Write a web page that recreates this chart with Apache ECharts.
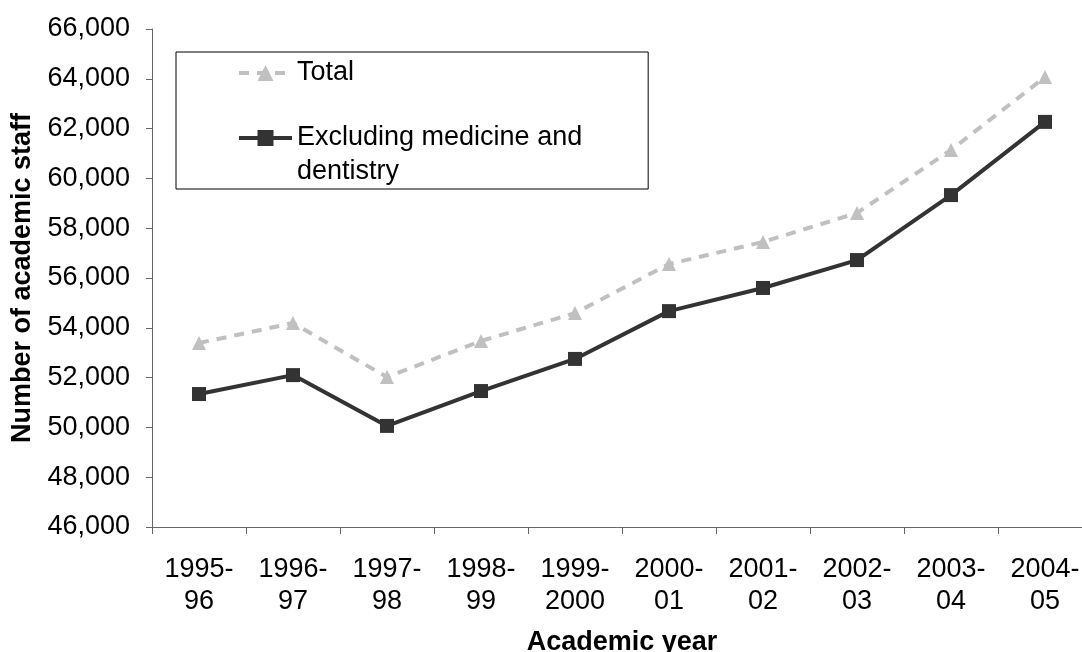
<!DOCTYPE html>
<html>
<head>
<meta charset="utf-8">
<script src="https://cdn.jsdelivr.net/npm/echarts@6/dist/echarts.min.js"></script>
<style>
html,body{margin:0;padding:0;background:#fff;}
#chart{width:1082px;height:652px;}
</style>
</head>
<body>
<div id="chart"></div>
<script>
const categories = ['1995-96','1996-97','1997-98','1998-99','1999-2000','2000-01','2001-02','2002-03','2003-04','2004-05'];
const totalValues = [53390, 54190, 52020, 53470, 54590, 56560, 57450, 58610, 61140, 64070];
const excludingValues = [51340, 52100, 50060, 51460, 52750, 54670, 55600, 56720, 59330, 62270];
const yTicks = { min: 46000, max: 66000, interval: 2000 };
const seriesNames = ['Total', 'Excluding medicine and dentistry'];

const FONT = '"Liberation Sans", Arial, sans-serif';
const FS = 27;
const chart = echarts.init(document.getElementById('chart'), null, {renderer: 'canvas'});
chart.setOption({
  animation: false,
  backgroundColor: '#fff',
  grid: { left: 152, right: -10, top: 29, bottom: 125, containLabel: false, outerBoundsMode: 'none' },
  legend: {
    orient: 'vertical',
    left: 176, top: 52,
    padding: [4, 66, 0, 61],
    itemGap: -3,
    itemWidth: 53, itemHeight: 20,
    borderColor: '#000', borderWidth: 1,
    backgroundColor: '#fff',
    lineStyle: { width: 4 },
    textStyle: { fontFamily: FONT, fontSize: FS, color: '#000', lineHeight: 34 },
    data: [
      { name: seriesNames[0] },
      { name: seriesNames[1] }
    ],
    formatter: function (n) { return n === seriesNames[1] ? ' \nExcluding medicine and\ndentistry' : n; }
  },
  xAxis: {
    type: 'category',
    data: categories,
    boundaryGap: true,
    name: 'Academic year',
    nameLocation: 'middle',
    nameGap: 102,
    nameTextStyle: { fontFamily: FONT, fontSize: FS, fontWeight: 'bold', color: '#000' },
    axisLine: { lineStyle: { color: '#666', width: 1 } },
    axisTick: { show: true, length: 7, lineStyle: { color: '#666' } },
    axisLabel: {
      fontFamily: FONT, fontSize: FS, color: '#000', lineHeight: 32, margin: 27, interval: 0,
      formatter: function (v) { return v.replace('-', '-\n'); }
    },
    splitLine: { show: false }
  },
  yAxis: {
    type: 'value',
    min: yTicks.min, max: yTicks.max, interval: yTicks.interval,
    name: 'Number of academic staff',
    nameLocation: 'middle',
    nameGap: 112,
    nameTextStyle: { fontFamily: FONT, fontSize: FS, fontWeight: 'bold', color: '#000' },
    axisLine: { show: true, lineStyle: { color: '#666', width: 1 } },
    axisTick: { show: true, length: 6, lineStyle: { color: '#666' } },
    axisLabel: {
      fontFamily: FONT, fontSize: FS, color: '#000', margin: 22,
      formatter: function (v) { return v.toLocaleString('en-US'); }
    },
    splitLine: { show: false }
  },
  series: [
    {
      name: seriesNames[0],
      type: 'line',
      data: totalValues,
      symbol: 'triangle', symbolSize: 14,
      itemStyle: { color: '#c0c0c0' },
      lineStyle: { color: '#c0c0c0', width: 4, type: [10, 8] },
      z: 2
    },
    {
      name: seriesNames[1],
      type: 'line',
      data: excludingValues,
      symbol: 'rect', symbolSize: 14,
      itemStyle: { color: '#333333' },
      lineStyle: { color: '#333333', width: 4 },
      z: 3
    }
  ]
});
</script>
</body>
</html>
